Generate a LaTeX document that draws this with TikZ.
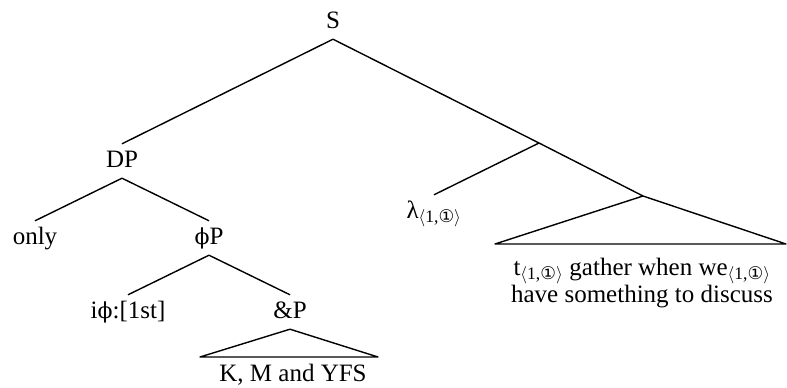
\documentclass[tikz,border=0pt]{standalone}
\usepackage{fontspec}
\setmainfont{Liberation Serif}
\newfontfamily\circfont{DejaVu Sans}
\newfontfamily\phifont{DejaVu Serif}
\newcommand{\ix}{\textsubscript{$\langle$1,{\circfont ①}$\rangle$}}
\newcommand{\ph}{{\phifont\fontsize{22}{23}\selectfont ϕ}}
\usetikzlibrary{positioning}

\begin{document}
\begin{tikzpicture}[
  x=1pt,y=-1pt,
  lbl/.style={font=\fontsize{25}{23}\selectfont,text height=17pt,text depth=5pt,
    inner xsep=2pt,inner ysep=6pt,anchor=base},
  yield/.style={font=\fontsize{25}{23}\selectfont,align=center,inner sep=0pt},
  branch/.style={line width=1.4pt,line join=round}
]
  \useasboundingbox (0,0) rectangle (787,388);
  % Root
  \node[lbl] (S) at (333,28) {S};
  % Subject
  \node[lbl] (DP) at (122,167) {DP};
  \node[lbl] (only) at (35,244) {only};
  \node[lbl] (phiP) at (209,244) {\ph P};
  \node[lbl] (iphi) at (128,318) {i\ph:[1st]};
  \node[lbl] (andP) at (290,318) {\&P};
  \node[yield,anchor=base] (kmy) at (293,381) {K, M and YFS};
  \coordinate (t1l) at (200,357);
  \coordinate (t1r) at (378,357);
  % Predicate
  \coordinate (n1) at (539,143);
  \coordinate (n2) at (643,196);
  \node[lbl] (lam) at (434,218) {λ\ix};
  \coordinate (t2l) at (495,244);
  \coordinate (t2r) at (786,244);
  \node[yield,anchor=north] (vp) at (642,258)
    {t\ix{} gather when we\ix\\have something to discuss};
  % Branches
  \draw[branch] (S.south) -- (DP.north);
  \draw[branch] (S.south) -- (n1);
  \draw[branch] (DP.south) -- (only.north);
  \draw[branch] (DP.south) -- (phiP.north);
  \draw[branch] (phiP.south) -- (iphi.north);
  \draw[branch] (phiP.south) -- (andP.north);
  \draw[branch] (andP.south) -- (t1l) -- (t1r) -- cycle;
  \draw[branch] (n1) -- (lam.north);
  \draw[branch] (n1) -- (n2);
  \draw[branch] (n2) -- (t2l) -- (t2r) -- cycle;
\end{tikzpicture}
\end{document}
